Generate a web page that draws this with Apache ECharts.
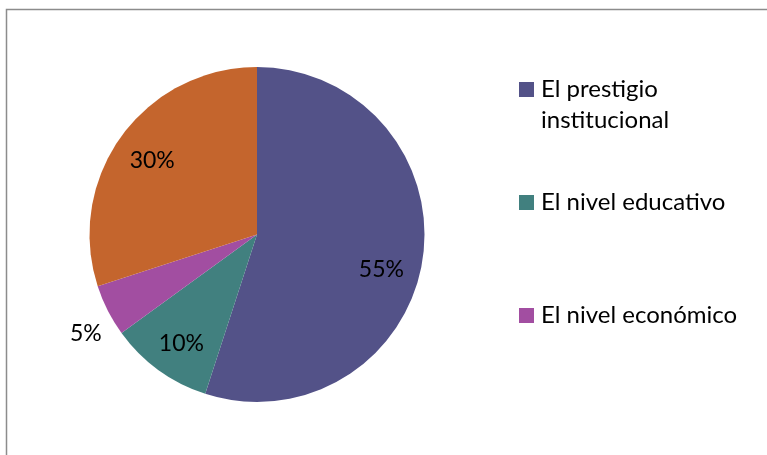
<!DOCTYPE html>
<html>
<head>
<meta charset="utf-8">
<script src="https://cdn.jsdelivr.net/npm/echarts@6/dist/echarts.min.js"></script>
<style>
html,body{margin:0;padding:0;background:#fff;}
#chart{width:767px;height:455px;}
</style>
</head>
<body>
<div id="chart"></div>
<script>
// Data
var categories = ['El prestigio institucional', 'El nivel educativo', 'El nivel económico', 'Otro'];
var legendLabels = [' \nEl prestigio\ninstitucional', 'El nivel educativo', 'El nivel económico'];
var values = [55, 10, 5, 30];
var colors = ['#535288', '#41807F', '#A24EA1', '#C4652D'];

var FONT = 'Lato, "Open Sans", sans-serif';
var chart = echarts.init(document.getElementById('chart'));

function mkData(opts) {
  return categories.map(function (c, i) {
    var d = { name: c, value: values[i], itemStyle: { color: colors[i] } };
    if (opts) opts(d, i);
    return d;
  });
}

var center = [257, 234.5];
var R = 167.5;

var legendTops = [43, 187, 300];
var legends = legendLabels.map(function (lab, i) {
  return {
    orient: 'vertical',
    left: 519,
    top: legendTops[i],
    padding: 0,
    itemWidth: 15,
    itemHeight: 15,
    icon: 'rect',
    selectedMode: false,
    data: [{ name: categories[i], itemStyle: { color: colors[i] } }],
    formatter: function () { return lab; },
    textStyle: { fontFamily: FONT, fontSize: 24, color: '#000', lineHeight: 31, padding: [0, 0, 0, 2] }
  };
});

function transparentData(showIdx) {
  return categories.map(function (c, i) {
    return {
      name: c, value: values[i],
      itemStyle: { color: 'rgba(0,0,0,0)' },
      label: { show: showIdx(i) }
    };
  });
}

var labelStyle = {
  show: true, position: 'inside', formatter: '{c}%',
  fontFamily: FONT, fontSize: 23, color: '#000'
};

var option = {
  backgroundColor: '#fff',
  animation: false,
  graphic: [{
    type: 'rect',
    shape: { x: 6.5, y: 9.5, width: 900, height: 600 },
    style: { fill: 'none', stroke: '#8c8c8c', lineWidth: 1.5 },
    silent: true
  }],
  legend: legends,
  series: [
    {
      type: 'pie',
      center: center,
      radius: [0, R],
      startAngle: 90,
      clockwise: true,
      silent: true,
      label: { show: false },
      labelLine: { show: false },
      data: mkData()
    },
    {
      // label carrier (inside labels at ~130px from centre)
      type: 'pie',
      center: center,
      radius: [0, 2 * 129],
      startAngle: 90,
      clockwise: true,
      silent: true,
      label: labelStyle,
      labelLine: { show: false },
      labelLayout: function (p) {
        if (p.dataIndex === 0) return { dy: 14, dx: -6 };
        if (p.dataIndex === 3) return { dy: 4, dx: 2 };
        return { dx: 2, dy: 2 };
      },
      data: transparentData(function (i) { return i !== 2; })
    },
    {
      // outer label for the small slice
      type: 'pie',
      center: center,
      radius: [0, 2 * 198],
      startAngle: 90,
      clockwise: true,
      silent: true,
      label: labelStyle,
      labelLine: { show: false },
      labelLayout: function (p) {
        if (p.dataIndex === 2) return { dx: 8, dy: 8 };
        return {};
      },
      data: transparentData(function (i) { return i === 2; })
    }
  ]
};
chart.setOption(option);
</script>
</body>
</html>
